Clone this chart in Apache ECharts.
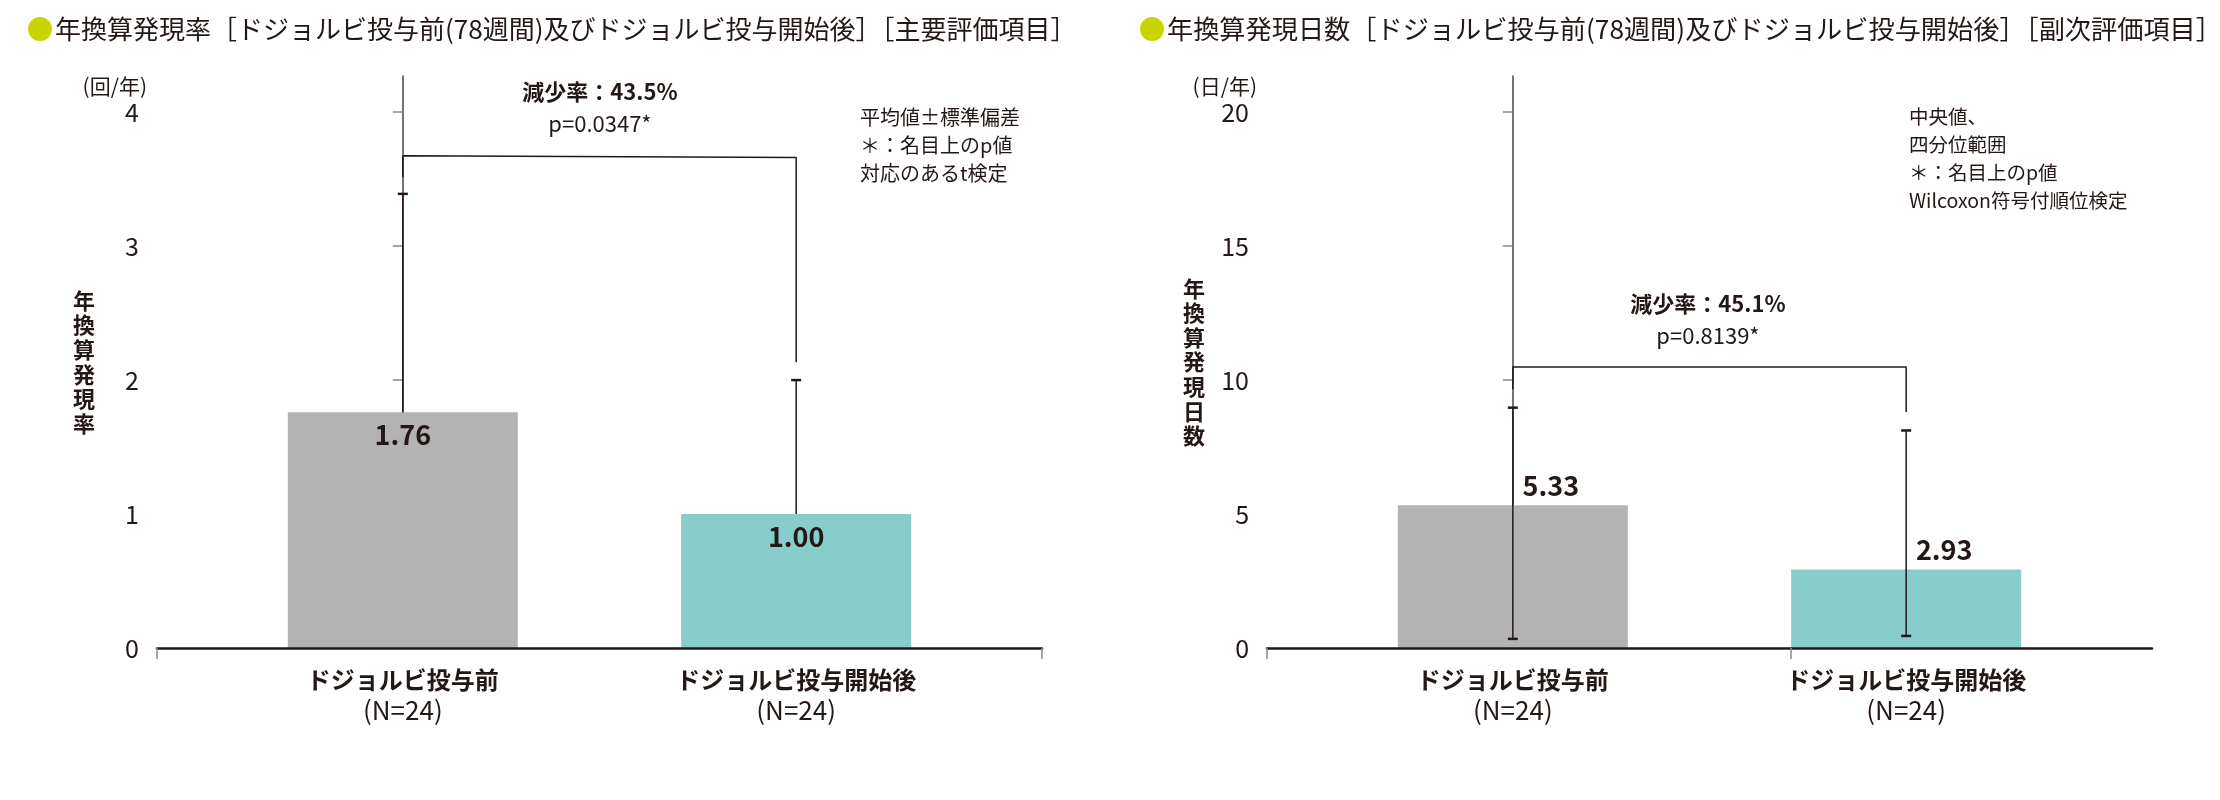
<!DOCTYPE html>
<html>
<head>
<meta charset="utf-8">
<script src="https://cdn.jsdelivr.net/npm/echarts@6/dist/echarts.min.js"></script>
<style>
html,body{margin:0;padding:0;background:#fff;}
#c{width:2220px;height:800px;}
</style>
</head>
<body>
<div id="c"></div>
<script>
// ---------- data ----------
const categories = ['ドジョルビ投与前', 'ドジョルビ投与開始後'];
const nLabels = ['(N=24)', '(N=24)'];
const categoryPos = [0, 1];

// left: annual attack rate (mean ± SD)
const rateMean = [1.76, 1.00];
const rateSdUpper = [3.39, 2.00];
const rateTicks = [0, 1, 2, 3, 4];
const rateBracket = [3.515, 3.675, 3.662, 2.134];

// right: annual attack days (median, IQR)
const daysMedian = [5.33, 2.93];
const daysQ1 = [0.34, 0.45];
const daysQ3 = [8.97, 8.12];
const daysTicks = [0, 5, 10, 15, 20];
const daysBracket = [9.66, 10.49, 10.49, 8.81];

const barColors = ['#b3b3b3', '#88cccc'];

const titleLeft = '年換算発現率［ドジョルビ投与前(78週間)及びドジョルビ投与開始後］［主要評価項目］';
const titleRight = '年換算発現日数［ドジョルビ投与前(78週間)及びドジョルビ投与開始後］［副次評価項目］';
const yNameLeft = '年換算発現率';
const yNameRight = '年換算発現日数';
const unitLeft = '(回/年)';
const unitRight = '(日/年)';
const notesLeft = ['平均値±標準偏差', '＊：名目上のp値', '対応のあるt検定'];
const notesRight = ['中央値、', '四分位範囲', '＊：名目上のp値', 'Wilcoxon符号付順位検定'];
const annLeft = ['減少率：43.5%', 'p=0.0347*'];
const annRight = ['減少率：45.1%', 'p=0.8139*'];

// ---------- build ----------
const F = '"Noto Sans CJK JP","Noto Sans",sans-serif';
const INK = '#231815';
const OFF = 1110;

function bracketData(b) {
  return [[0, b[0]], [0, b[1]], [1, b[2]], [1, b[3]]];
}

function errRender(capLow) {
  return function (params, api) {
    const x = api.value(0), lo = api.value(1), hi = api.value(2);
    const pLo = api.coord([x, lo]), pHi = api.coord([x, hi]);
    const ch = [
      {type: 'line', shape: {x1: pLo[0], y1: pLo[1], x2: pHi[0], y2: pHi[1]}, style: {stroke: INK, lineWidth: 1.5}},
      {type: 'line', shape: {x1: pHi[0] - 5, y1: pHi[1], x2: pHi[0] + 5, y2: pHi[1]}, style: {stroke: INK, lineWidth: 2.5}}
    ];
    if (capLow) ch.push({type: 'line', shape: {x1: pLo[0] - 5, y1: pLo[1], x2: pLo[0] + 5, y2: pLo[1]}, style: {stroke: INK, lineWidth: 2.5}});
    return {type: 'group', children: ch};
  };
}

function xAxisCfg(gi, ticks) {
  return {
    gridIndex: gi, type: 'value', min: -0.625, max: 1.625, z: 5,
    axisLine: {show: true, onZero: false, lineStyle: {color: INK, width: 2.5}},
    axisTick: {show: true, length: 11, customValues: ticks, lineStyle: {color: '#8a8a8a', width: 1.5}},
    axisLabel: {
      customValues: categoryPos, margin: 16,
      formatter: v => { const i = Math.round(v); return '{a|' + categories[i] + '}\n{b|' + nLabels[i] + '}'; },
      rich: {
        a: {fontSize: 24, fontWeight: 'bold', color: INK, fontFamily: F, lineHeight: 31},
        b: {fontSize: 26, color: INK, fontFamily: F, lineHeight: 31}
      }
    },
    splitLine: {show: false}
  };
}

function yAxisCfg(gi, max, interval, ticks, name) {
  return {
    gridIndex: gi, type: 'value', min: 0, max: max, interval: interval,
    axisLine: {show: true, lineStyle: {color: '#4d4343', width: 1.5}},
    axisTick: {show: true, length: 10, customValues: ticks, lineStyle: {color: '#8a8a8a', width: 1.5}},
    axisLabel: {customValues: ticks, fontSize: 25, color: INK, margin: 18, fontFamily: F},
    splitLine: {show: false},
    name: name.split('').join('\n'), nameLocation: 'middle', nameGap: 62, nameRotate: 0,
    nameTextStyle: {fontSize: 22, fontWeight: 'bold', lineHeight: 24.6, color: INK, fontFamily: F}
  };
}

function txt(x, y, text, opt) {
  return {type: 'text', x: x, y: y, z: 100, style: Object.assign({text: text, fill: INK, fontFamily: F, fontSize: 22}, opt)};
}

const option = {
  animation: false,
  backgroundColor: '#fff',
  grid: [
    {left: 157, top: 76, width: 885, height: 572},
    {left: 157 + OFF, top: 76, width: 885, height: 572}
  ],
  xAxis: [xAxisCfg(0, [-0.625, 1.625]), xAxisCfg(1, [-0.625, 0.706])],
  yAxis: [yAxisCfg(0, 4.27, 1, rateTicks, yNameLeft), yAxisCfg(1, 21.35, 5, daysTicks, yNameRight)],
  series: [
    {
      type: 'bar', xAxisIndex: 0, yAxisIndex: 0, barWidth: 230, z: 2,
      data: rateMean.map((v, i) => ({value: [categoryPos[i], v], itemStyle: {color: barColors[i]}})),
      label: {show: true, position: 'insideTop', distance: 9, fontSize: 27, fontWeight: 'bold', color: INK, fontFamily: F,
        formatter: p => p.value[1].toFixed(2)}
    },
    {
      type: 'custom', xAxisIndex: 0, yAxisIndex: 0, z: 4,
      renderItem: errRender(false),
      data: rateMean.map((v, i) => [categoryPos[i], v, rateSdUpper[i]])
    },
    {
      type: 'line', xAxisIndex: 0, yAxisIndex: 0, z: 4, symbol: 'none',
      lineStyle: {color: INK, width: 1.5},
      data: bracketData(rateBracket)
    },
    {
      type: 'bar', xAxisIndex: 1, yAxisIndex: 1, barWidth: 230, z: 2,
      data: daysMedian.map((v, i) => ({value: [categoryPos[i], v], itemStyle: {color: barColors[i]}})),
      label: {show: true, position: 'top', distance: 6, offset: [38, 0], fontSize: 27, fontWeight: 'bold', color: INK, fontFamily: F,
        formatter: p => p.value[1].toFixed(2)}
    },
    {
      type: 'custom', xAxisIndex: 1, yAxisIndex: 1, z: 4,
      renderItem: errRender(true),
      data: daysMedian.map((v, i) => [categoryPos[i], daysQ1[i], daysQ3[i]])
    },
    {
      type: 'line', xAxisIndex: 1, yAxisIndex: 1, z: 4, symbol: 'none',
      lineStyle: {color: INK, width: 1.5},
      data: bracketData(daysBracket)
    }
  ],
  graphic: [
    {type: 'circle', shape: {cx: 40, cy: 29, r: 12}, style: {fill: '#c8d400'}},
    txt(55, 29, titleLeft, {fontSize: 26, verticalAlign: 'middle'}),
    {type: 'circle', shape: {cx: 40 + OFF + 2, cy: 29, r: 12}, style: {fill: '#c8d400'}},
    txt(57 + OFF, 29, titleRight, {fontSize: 26.2, verticalAlign: 'middle'}),
    txt(147, 86, unitLeft, {fontSize: 21, align: 'right', verticalAlign: 'middle'}),
    txt(147 + OFF, 86, unitRight, {fontSize: 21, align: 'right', verticalAlign: 'middle'}),
    txt(860, 103, notesLeft.join('\n'), {fontSize: 20, lineHeight: 28, verticalAlign: 'top'}),
    txt(799 + OFF, 103, notesRight.join('\n'), {fontSize: 19.5, lineHeight: 28, verticalAlign: 'top'}),
    txt(600, 92, annLeft[0], {fontWeight: 'bold', align: 'center', verticalAlign: 'middle'}),
    txt(600, 124, annLeft[1], {align: 'center', verticalAlign: 'middle'}),
    txt(598 + OFF, 304, annRight[0], {fontWeight: 'bold', align: 'center', verticalAlign: 'middle'}),
    txt(598 + OFF, 336, annRight[1], {align: 'center', verticalAlign: 'middle'})
  ]
};

const chart = echarts.init(document.getElementById('c'), null, {renderer: 'canvas'});
chart.setOption(option);
</script>
</body>
</html>
